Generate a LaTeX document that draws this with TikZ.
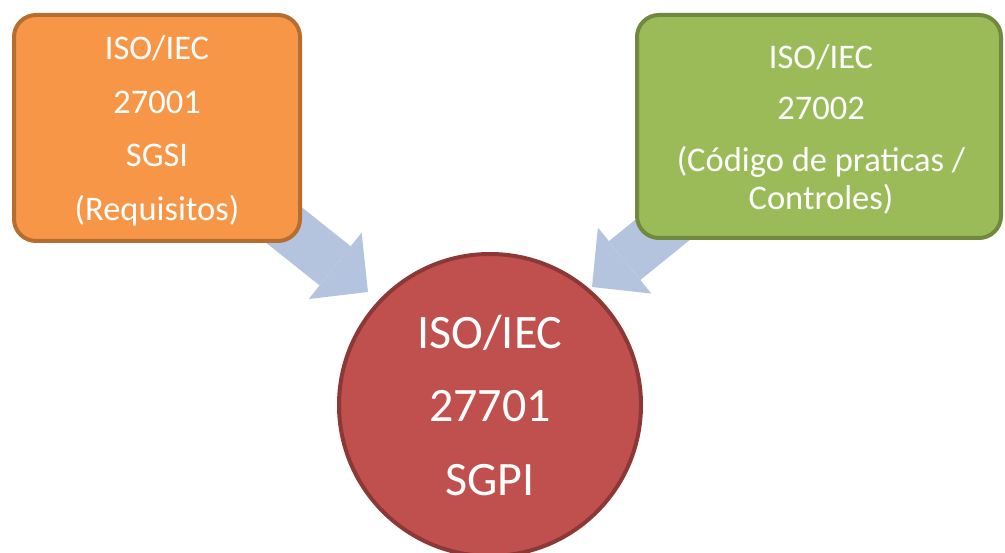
\documentclass[tikz,border=0pt]{standalone}
\usepackage{fontspec}
\setmainfont{Carlito}
\usetikzlibrary{arrows.meta,backgrounds}
\definecolor{isoorange}{HTML}{F79646}
\definecolor{isoorangeline}{HTML}{B66D31}
\definecolor{isogreen}{HTML}{9BBB59}
\definecolor{isogreenline}{HTML}{71893F}
\definecolor{isored}{HTML}{C0504D}
\definecolor{isoredline}{HTML}{8C3836}
\definecolor{flowblue}{RGB}{180,196,222}

\begin{document}
\begin{tikzpicture}[x=1pt,y=-1pt,
		normbox/.style={rounded corners=22pt,line width=4pt},
		normtext/.style={text=white,align=center,inner sep=0pt},
		flow/.style={flowblue,line width=50pt,-{Triangle[length=42pt,width=85pt,line width=0pt]}}]
	\useasboundingbox (0,0) rectangle (1005,553);
	% the three standards
	\node[normbox,draw=isoorangeline,fill=isoorange,minimum width=286pt,minimum height=226pt] (sgsi) at (157,128) {};
	\node[normtext,font=\fontsize{34.5}{53.5}\selectfont] (sgsitext) at ([yshift=-3pt]sgsi.center)
		{ISO/IEC\\27001\\SGSI\\(Requisitos)};
	\node[normbox,draw=isogreenline,fill=isogreen,minimum width=364pt,minimum height=223pt] (ctrl) at (819,126.5) {};
	\node[normtext,font=\fontsize{34.5}{38}\selectfont] (ctrltext) at ([xshift=2pt,yshift=-3pt]ctrl.center)
		{ISO/IEC\\[13pt]27002\\[14pt](Código de praticas /\\Controles)};
	\node[circle,draw=isoredline,fill=isored,line width=4pt,minimum size=302pt,normtext,
		font=\fontsize{48}{73.5}\selectfont] (sgpi) at (490,405) {ISO/IEC\\27701\\SGPI};
	% arrows behind the shapes
	\coordinate (srcL) at (196,155);
	\coordinate (tipL) at (368,292);
	\coordinate (srcR) at (763,148.5);
	\coordinate (tipR) at (592,287);
	\begin{pgfonlayer}{background}
		\draw[flow] (srcL) -- (tipL);
		\draw[flow] (srcR) -- (tipR);
	\end{pgfonlayer}
\end{tikzpicture}
\end{document}
